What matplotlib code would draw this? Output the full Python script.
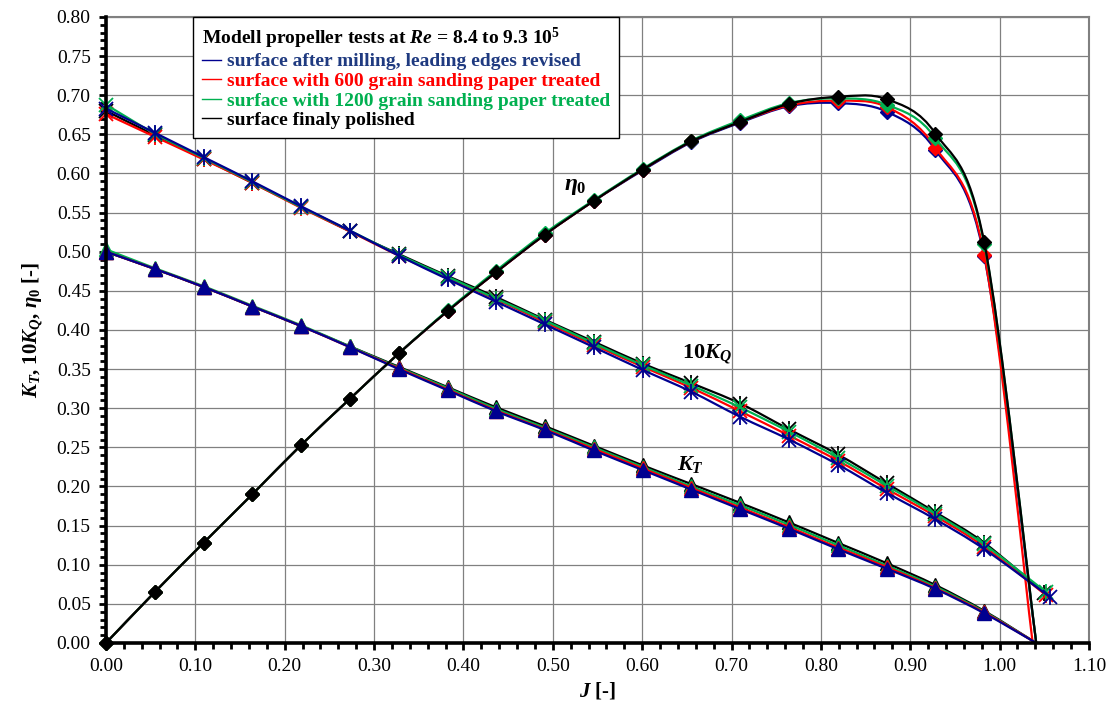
import numpy as np
import matplotlib
matplotlib.use('Agg')
from matplotlib import pyplot as plt
from matplotlib.path import Path
from matplotlib.patches import PathPatch
from matplotlib.lines import Line2D
from matplotlib.ticker import MultipleLocator, FormatStrFormatter

plt.rcParams['font.family'] = ['Liberation Serif', 'DejaVu Serif']
plt.rcParams['mathtext.fontset'] = 'custom'
plt.rcParams['mathtext.rm'] = 'Liberation Serif:bold'
plt.rcParams['mathtext.it'] = 'Liberation Serif:italic:bold'
plt.rcParams['mathtext.bf'] = 'Liberation Serif:bold'

# advance ratio of the measured points
J = [0.0000, 0.0546, 0.1092, 0.1638, 0.2184, 0.2730, 0.3276, 0.3822, 0.4368, 0.4914,
     0.5460, 0.6006, 0.6552, 0.7098, 0.7644, 0.8190, 0.8736, 0.9282, 0.9828]

# KT  (end point KT = 0 without marker)
kt_blue  = [0.500, 0.478, 0.455, 0.430, 0.405, 0.378, 0.350, 0.323, 0.296, 0.272,
            0.246, 0.221, 0.196, 0.171, 0.146, 0.120, 0.095, 0.069, 0.038]
kt_red   = [0.500, 0.478, 0.455, 0.430, 0.405, 0.378, 0.351, 0.324, 0.297, 0.273,
            0.248, 0.223, 0.198, 0.173, 0.148, 0.122, 0.097, 0.070, 0.039]
kt_green = [0.503, 0.479, 0.456, 0.431, 0.406, 0.379, 0.352, 0.326, 0.299, 0.275,
            0.250, 0.225, 0.200, 0.176, 0.151, 0.125, 0.099, 0.072, 0.040]
kt_black = [0.500, 0.478, 0.455, 0.430, 0.405, 0.379, 0.353, 0.327, 0.301, 0.277,
            0.252, 0.227, 0.203, 0.179, 0.154, 0.128, 0.102, 0.074, 0.041]
kt_end = [1.041, 1.041, 1.041, 1.041]

# 10KQ
kq_blue  = [0.683, 0.652, 0.621, 0.590, 0.558, 0.527, 0.495, 0.465, 0.436, 0.407,
            0.378, 0.349, 0.321, 0.289, 0.260, 0.228, 0.192, 0.158, 0.120]
kq_red   = [0.676, 0.647, 0.618, 0.588, 0.556, 0.526, 0.495, 0.467, 0.439, 0.410,
            0.381, 0.353, 0.326, 0.296, 0.265, 0.233, 0.197, 0.162, 0.123]
kq_green = [0.688, 0.651, 0.620, 0.589, 0.557, 0.527, 0.496, 0.468, 0.440, 0.412,
            0.383, 0.355, 0.329, 0.301, 0.270, 0.237, 0.201, 0.165, 0.126]
kq_black = [0.680, 0.649, 0.619, 0.588, 0.557, 0.526, 0.497, 0.469, 0.442, 0.413,
            0.385, 0.357, 0.332, 0.306, 0.273, 0.241, 0.204, 0.167, 0.128]
kq_end_j = [1.056, 1.052, 1.052, 1.050]
kq_end = [0.059, 0.061, 0.065, 0.064]

# eta0  (end point eta = 0 without marker)
eta_blue  = [0.000, 0.065, 0.128, 0.190, 0.253, 0.312, 0.370, 0.424, 0.474, 0.522,
             0.565, 0.604, 0.640, 0.665, 0.686, 0.690, 0.679, 0.630, 0.494]
eta_red   = [0.000, 0.065, 0.128, 0.190, 0.253, 0.312, 0.370, 0.424, 0.474, 0.522,
             0.565, 0.605, 0.641, 0.666, 0.687, 0.693, 0.685, 0.633, 0.496]
eta_green = [0.000, 0.065, 0.128, 0.190, 0.253, 0.312, 0.370, 0.425, 0.476, 0.524,
             0.566, 0.606, 0.642, 0.668, 0.690, 0.696, 0.688, 0.645, 0.510]
eta_black = [0.000, 0.065, 0.128, 0.190, 0.253, 0.312, 0.370, 0.424, 0.474, 0.522,
             0.565, 0.605, 0.641, 0.666, 0.689, 0.698, 0.695, 0.651, 0.512]
eta_end = [1.041, 1.037, 1.041, 1.041]

labels = ['surface after milling, leading edges revised',
          'surface with 600 grain sanding paper treated',
          'surface with 1200 grain sanding paper treated',
          'surface finaly polished']
line_colors = ['#000090', '#ff0000', '#00b050', '#000000']
text_colors = ['#1f3a80', '#ff0000', '#00b050', '#000000']


# excel-like smoothed line (bezier through the points)
def smooth_path(x, y):
    p = np.column_stack([x, y]).astype(float)
    n = len(p)
    verts = [p[0]]
    codes = [Path.MOVETO]
    for i in range(n - 1):
        p0 = p[i - 1] if i > 0 else p[i]
        p3 = p[i + 2] if i + 2 < n else p[i + 1]
        c1 = p[i] + (p[i + 1] - p0) / 6.0
        c2 = p[i + 1] - (p3 - p[i]) / 6.0
        verts += [c1, c2, p[i + 1]]
        codes += [Path.CURVE4] * 3
    return Path(verts, codes)


def draw(ax, x, y, color, marker, ms, mark_n, zo):
    ax.add_patch(PathPatch(smooth_path(x, y), fill=False, edgecolor=color, lw=1.6, zorder=zo))
    if marker == 'star':
        ax.plot(x[:mark_n], y[:mark_n], ls='none', marker='x', ms=ms * 0.8, mec=color,
                mew=1.3, zorder=zo + 0.5, clip_on=False)
        ax.plot(x[:mark_n], y[:mark_n], ls='none', marker='|', ms=ms, mec=color,
                mew=1.3, zorder=zo + 0.5, clip_on=False)
    else:
        ax.plot(x[:mark_n], y[:mark_n], ls='none', marker=marker, ms=ms, mfc=color, mec=color,
                zorder=zo + 0.5, clip_on=False)


fig = plt.figure(figsize=(11.13, 7.13), dpi=100)
ax = fig.add_axes([0.0952, 0.0982, 0.9784 - 0.0952, 0.9762 - 0.0982])

kt_all = [kt_blue, kt_red, kt_green, kt_black]
kq_all = [kq_blue, kq_red, kq_green, kq_black]
eta_all = [eta_blue, eta_red, eta_green, eta_black]

# KT: blue on top
for k, i in enumerate([3, 2, 1, 0]):
    draw(ax, J + [kt_end[i]], kt_all[i] + [0.0], line_colors[i], '^', 9.5, len(J), 3 + k)
# 10KQ
for k, i in enumerate([3, 1, 2, 0]):
    draw(ax, J + [kq_end_j[i]], kq_all[i] + [kq_end[i]], line_colors[i], 'star', 12, len(J) + 1, 3 + k)
# eta0: black on top
for k, i in enumerate([0, 1, 2, 3]):
    draw(ax, J + [eta_end[i]], eta_all[i] + [0.0], line_colors[i], 'D', 7.5, len(J), 3 + k)

ax.set_xlim(0, 1.10)
ax.set_ylim(0, 0.80)
ax.xaxis.set_major_locator(MultipleLocator(0.10))
ax.xaxis.set_minor_locator(MultipleLocator(0.02))
ax.yaxis.set_major_locator(MultipleLocator(0.05))
ax.yaxis.set_minor_locator(MultipleLocator(0.01))
ax.xaxis.set_major_formatter(FormatStrFormatter('%.2f'))
ax.yaxis.set_major_formatter(FormatStrFormatter('%.2f'))
ax.tick_params(which='major', direction='out', length=5, width=2, labelsize=14, pad=6)
ax.tick_params(which='minor', direction='out', length=4, width=2)
ax.grid(True, which='major', color='#808080', lw=0.9)
ax.set_axisbelow(True)
for s in ['left', 'bottom']:
    ax.spines[s].set_linewidth(2.6)
    ax.spines[s].set_zorder(20)
for s in ['top', 'right']:
    ax.spines[s].set_linewidth(1.5)
    ax.spines[s].set_color('#808080')

ax.set_xlabel('$J$ [-]', fontsize=15, fontweight='bold', labelpad=4)
ax.set_ylabel('$K_T$, 10$K_Q$, $\\eta_0$ [-]', fontsize=15, fontweight='bold', labelpad=8)

ax.text(0.525, 0.583, '$\\eta_0$', fontsize=17, fontweight='bold', ha='center', va='center', zorder=30)
ax.text(0.672, 0.369, '10$K_Q$', fontsize=16, fontweight='bold', ha='center', va='center', zorder=30)
ax.text(0.654, 0.228, '$K_T$', fontsize=16, fontweight='bold', ha='center', va='center', zorder=30)

handles = [Line2D([0], [0], color=c, lw=1) for c in line_colors]
leg = ax.legend(handles, labels, loc='upper left', bbox_to_anchor=(0.0885, 1.0),
                title='Modell propeller tests at $Re$ = 8.4 to 9.3 10$^5$',
                title_fontproperties={'weight': 'bold', 'size': 14},
                alignment='left', prop={'weight': 'bold', 'size': 14},
                labelcolor=text_colors, frameon=True, fancybox=False, framealpha=1,
                edgecolor='black', handlelength=1.0, handletextpad=0.3,
                borderaxespad=0, borderpad=0.45, labelspacing=0.1)
leg.get_frame().set_linewidth(1.0)
leg.set_zorder(40)

plt.savefig('out.png', dpi=100)
